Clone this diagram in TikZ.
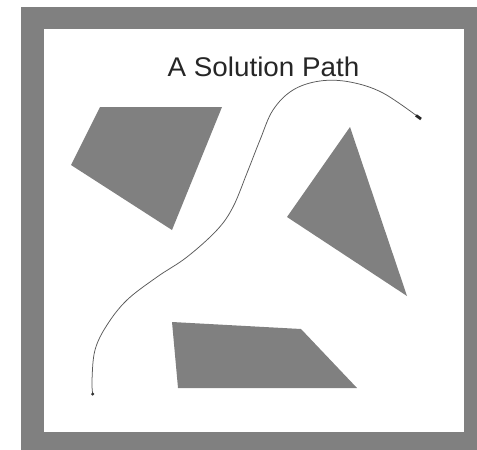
\documentclass[tikz,border=0pt]{standalone}
\usepackage{fontspec}
\setmainfont{Liberation Sans}
\begin{document}
\begin{tikzpicture}[x=1pt,y=-1pt,
  obstacle/.style={fill=obsgray,draw=none},
  pathline/.style={draw=black!65,line width=0.75pt},
  enddot/.style={circle,fill=black!80,inner sep=0pt,minimum size=3.4pt}]
\definecolor{obsgray}{RGB}{128,128,128}
\useasboundingbox (0,0) rectangle (477,450);
\fill[white] (0,0) rectangle (477,450);
% frame
\fill[obsgray] (20.7,6.7) rectangle (477,450);
\fill[white] (44,29) rectangle (464,432);
% obstacles
\fill[obstacle] (100,107) -- (222,107) -- (172,230) -- (71,165) -- cycle;
\fill[obstacle] (350,127) -- (407,296) -- (287,217) -- cycle;
\fill[obstacle] (172,322) -- (301,329) -- (357,388) -- (178,388) -- cycle;
% title
\node[anchor=base,font=\fontsize{27}{30}\selectfont,xscale=1.03,inner sep=0pt,text=black!85] (title) at (263.5,76) {A Solution Path};
% solution path
\coordinate (start) at (92.7,394);
\coordinate (goal) at (421,119);
\draw[pathline] plot[smooth,tension=0.6] coordinates {
 (92.7,394) (92,380) (95,350) (107,325) (127,300) (157,277) (187,257) (217,230)
 (233,207) (247,173) (260,140) (273,110) (293,90) (320,81) (350,82) (383,93) (421,119)};
\node[enddot] (s) at (start) {};
\draw[black!85,line width=2.8pt] (goal) -- ++(-5,-3.6);
\end{tikzpicture}
\end{document}
